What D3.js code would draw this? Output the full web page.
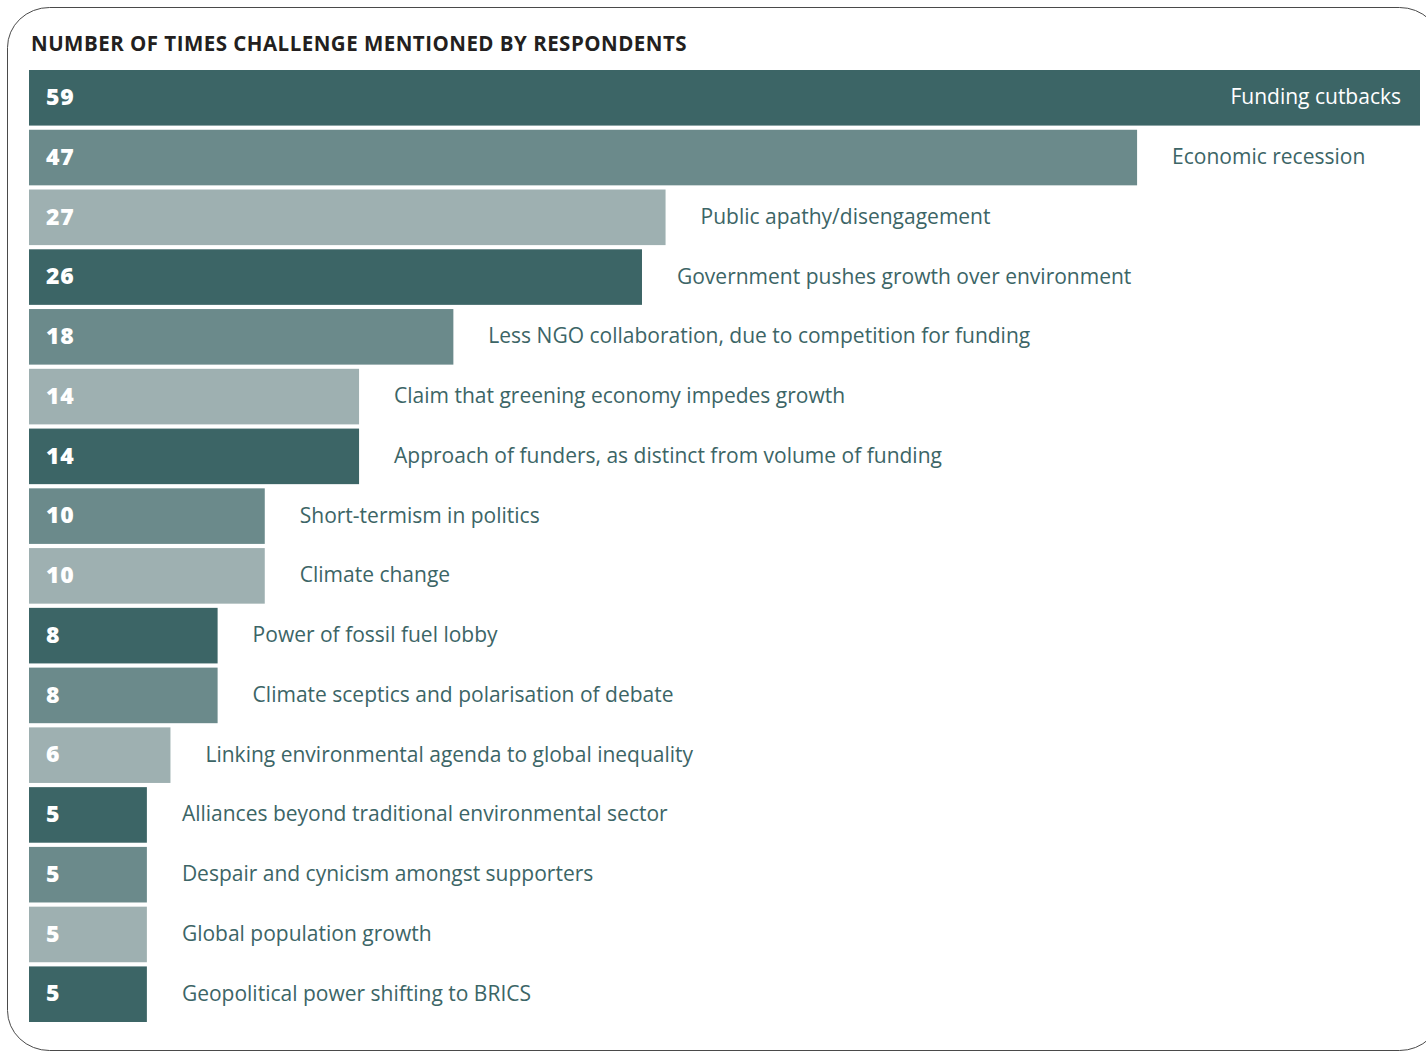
<!DOCTYPE html>
<html>
<head>
<meta charset="utf-8">
<script src="https://cdn.jsdelivr.net/npm/d3@7"></script>
<style>
  html, body { margin: 0; padding: 0; background: #ffffff; }
  svg { display: block; }
</style>
</head>
<body>
<svg id="chart" width="1426" height="1051"></svg>
<script>
// Challenges and how many respondents mentioned each
const challenges = [
  "Funding cutbacks",
  "Economic recession",
  "Public apathy/disengagement",
  "Government pushes growth over environment",
  "Less NGO collaboration, due to competition for funding",
  "Claim that greening economy impedes growth",
  "Approach of funders, as distinct from volume of funding",
  "Short-termism in politics",
  "Climate change",
  "Power of fossil fuel lobby",
  "Climate sceptics and polarisation of debate",
  "Linking environmental agenda to global inequality",
  "Alliances beyond traditional environmental sector",
  "Despair and cynicism amongst supporters",
  "Global population growth",
  "Geopolitical power shifting to BRICS"
];
const mentions = [59, 47, 27, 26, 18, 14, 14, 10, 10, 8, 8, 6, 5, 5, 5, 5];
const shades = ["#3c6566", "#6b8a8b", "#9eb0b1"];
const titleText = "NUMBER OF TIMES CHALLENGE MENTIONED BY RESPONDENTS";

const svg = d3.select("#chart");

// Rounded frame around the panel
svg.append("rect")
  .attr("x", 7.5).attr("y", 7.5)
  .attr("width", 1434).attr("height", 1043)
  .attr("rx", 42).attr("ry", 40)
  .attr("fill", "none")
  .attr("stroke", "#4a4a4a")
  .attr("stroke-width", 1);

svg.append("text")
  .attr("x", 31).attr("y", 51)
  .attr("font-family", "'Open Sans', sans-serif")
  .attr("font-weight", 700)
  .attr("font-size", 20.5)
  .attr("letter-spacing", 0.48)
  .attr("fill", "#231f20")
  .text(titleText);

const x = d3.scaleLinear().domain([0, 59]).range([29, 1420]);
const y = d3.scaleBand()
  .domain(d3.range(challenges.length))
  .range([70, 1022])
  .paddingInner(0.07)
  .paddingOuter(0);

const rows = svg.append("g").selectAll("g")
  .data(challenges.map((c, i) => ({ name: c, value: mentions[i], i })))
  .join("g");

rows.append("rect")
  .attr("x", x(0))
  .attr("y", d => y(d.i))
  .attr("width", d => x(d.value) - x(0))
  .attr("height", y.bandwidth())
  .attr("fill", d => shades[d.i % 3]);

rows.append("text")
  .attr("x", 46)
  .attr("y", d => y(d.i) + y.bandwidth() / 2 - 1)
  .attr("dy", "0.36em")
  .attr("font-family", "'Open Sans', sans-serif")
  .attr("font-weight", 800)
  .attr("font-size", 23)
  .attr("letter-spacing", 0.8)
  .attr("fill", "#ffffff")
  .text(d => d.value);

// Category names: inside the longest bar, to the right of the others
rows.append("text")
  .attr("x", d => d.i === 0 ? x(d.value) - 19 : x(d.value) + 35)
  .attr("y", d => y(d.i) + y.bandwidth() / 2 - 1)
  .attr("dy", "0.36em")
  .attr("text-anchor", d => d.i === 0 ? "end" : "start")
  .attr("font-family", "'Open Sans', sans-serif")
  .attr("font-size", 21)
  .attr("fill", d => d.i === 0 ? "#ffffff" : "#3c6566")
  .text(d => d.name);
</script>
</body>
</html>
